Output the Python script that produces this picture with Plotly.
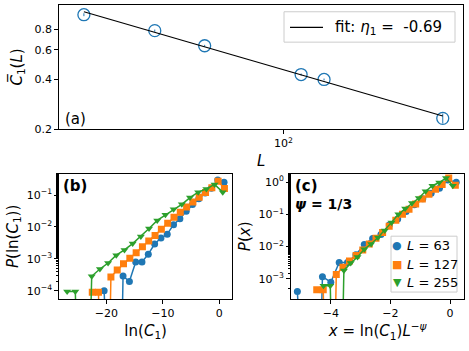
import numpy as np
import plotly.graph_objects as go

# ---- panel (a): mean C1 vs system size ----
L_sizes = [31, 47, 63, 111, 127, 255]
C1_mean = [0.977, 0.783, 0.635, 0.426, 0.398, 0.232]
C1_err = [0.02, 0.012, 0.008, 0.006, 0.005, 0.016]
fit_label = "fit: <i>η</i><sub>1</sub> =  -0.69"

# ---- panel (b): histograms of ln(C1) ----
L_hist = [63, 127, 255]
lnC_63 = [-20.40, -19.28, -18.16, -17.05, -15.93, -14.81, -13.70, -12.58, -11.46, -10.34,
          -9.23, -8.11, -6.99, -5.87, -4.76, -3.64, -2.52, -1.41, -0.29, 0.83]
P_63 = [1.0e-4, 0, 0, 2.9e-4, 1.95e-4, 8.0e-4, 8.0e-4, 1.4e-3, 2.9e-3, 4.5e-3,
        5.9e-3, 0.0118, 0.018, 0.031, 0.050, 0.077, 0.115, 0.164, 0.294, 0.25]
lnC_127 = [-22.5, -21.4, -20.3, -19.2, -18.08, -16.97, -15.85, -14.73, -13.62, -12.5, -11.38,
           -10.27, -9.15, -8.03, -6.92, -5.8, -4.68, -3.57, -2.45, -1.33, -0.22, 0.9]
P_127 = [9e-5, 9e-5, 0, 2.7e-4, 4.5e-4, 7e-4, 1.05e-3, 1.55e-3, 2.4e-3, 3.6e-3, 5.4e-3,
         8.5e-3, 0.013, 0.02, 0.029, 0.042, 0.06, 0.085, 0.12, 0.17, 0.27, 0.16]
lnC_255 = [-26.95, -25.5, -24.05, -22.6, -21.15, -19.7, -18.25, -16.8, -15.35, -13.9,
           -12.45, -11.0, -9.55, -8.1, -6.65, -5.2, -3.75, -2.3, -0.85, 0.6]
P_255 = [9.5e-5, 9.5e-5, 0, 2.85e-4, 4.8e-4, 7.4e-4, 1.3e-3, 1.9e-3, 3.0e-3, 5.0e-3,
         8.9e-3, 0.0160, 0.024, 0.036, 0.051, 0.083, 0.123, 0.155, 0.214, 0.123]
psi = 1 / 3

COLORS = ["#1f77b4", "#ff7f0e", "#2ca02c"]
SYMBOLS = ["circle", "square", "triangle-down"]
GLYPHS = ["●", "■", "▼"]
FONT = "DejaVu Sans"
W, H = 469, 351

fig = go.Figure()

# (a)
fig.add_trace(go.Scatter(
    x=L_sizes, y=C1_mean, mode="markers",
    marker=dict(symbol="circle-open", size=12, color=COLORS[0], line=dict(width=1.3)),
    error_y=dict(type="data", array=C1_err, color=COLORS[0], thickness=1, width=0),
    xaxis="x", yaxis="y"))
slope, icpt = np.polyfit(np.log10(L_sizes), np.log10(C1_mean), 1)
L_line = np.array([min(L_sizes), max(L_sizes)], dtype=float)
fig.add_trace(go.Scatter(
    x=L_line, y=10 ** icpt * L_line ** slope, mode="lines",
    line=dict(color="black", width=1.2), xaxis="x", yaxis="y"))

# (b) and (c)
series = [(lnC_63, P_63), (lnC_127, P_127), (lnC_255, P_255)]
for i, (L, (lx, p)) in enumerate(zip(L_hist, series)):
    lx = np.array(lx)
    p = np.array(p, dtype=float)
    p_plot = np.where(p > 0, p, 1e-14)   # empty bins clipped like matplotlib
    mk = dict(symbol=SYMBOLS[i], size=7, color=COLORS[i])
    fig.add_trace(go.Scatter(x=lx, y=p_plot, mode="lines+markers", marker=mk,
                             line=dict(color=COLORS[i], width=1.5),
                             xaxis="x2", yaxis="y2"))
    fig.add_trace(go.Scatter(x=lx * L ** (-psi), y=p_plot * L ** psi, mode="lines+markers",
                             marker=mk, line=dict(color=COLORS[i], width=1.5),
                             xaxis="x3", yaxis="y3"))

ax = dict(showline=True, mirror=True, linecolor="black", linewidth=1, ticks="outside",
          ticklen=4, tickwidth=1, tickcolor="black", showgrid=False, zeroline=False,
          tickfont=dict(size=11, color="black"), title_font=dict(size=15, color="black"))
minor = dict(ticks="outside", ticklen=2, tickcolor="black", showgrid=False)

dec = lambda k: f"10<sup>{'−' if k < 0 else ''}{abs(k)}</sup>"
px = lambda v: v / W
py = lambda v: 1 - v / H

# hand-built legends (boxes, sample marks, labels) in paper pixels
shapes = [
    dict(type="rect", xref="paper", yref="paper", x0=px(284), x1=px(455), y0=py(43), y1=py(12),
         fillcolor="rgba(255,255,255,0.8)", line=dict(color="#cccccc", width=1)),
    dict(type="line", xref="paper", yref="paper", x0=px(290), x1=px(323), y0=py(28), y1=py(28),
         line=dict(color="black", width=1.2)),
    dict(type="rect", xref="paper", yref="paper", x0=px(391), x1=px(457), y0=py(298), y1=py(241),
         fillcolor="rgba(255,255,255,0.8)", line=dict(color="#cccccc", width=1)),
]
annotations = [
    dict(text=fit_label, xref="paper", yref="paper", x=px(333), y=py(28),
         xanchor="left", yanchor="middle", showarrow=False, font=dict(size=15)),
    dict(text="(a)", xref="x domain", yref="y domain", x=0.01, y=-0.01,
         xanchor="left", yanchor="bottom", showarrow=False, font=dict(size=15)),
    dict(text="<b>(b)</b>", xref="x2 domain", yref="y2 domain", x=0.01, y=0.99,
         xanchor="left", yanchor="top", showarrow=False, font=dict(size=15)),
    dict(text="<b>(c)</b>", xref="x3 domain", yref="y3 domain", x=0.01, y=0.99,
         xanchor="left", yanchor="top", showarrow=False, font=dict(size=15)),
    dict(text="<b><i>ψ</i> = 1/3</b>", xref="x3 domain", yref="y3 domain", x=0.01,
         y=0.76, xanchor="left", yanchor="middle", showarrow=False, font=dict(size=14)),
]
row_y = [251, 269.5, 288]
for i, L in enumerate(L_hist):
    annotations.append(dict(text=GLYPHS[i], xref="paper", yref="paper", x=px(397),
                            y=py(row_y[i]), xanchor="center", yanchor="middle",
                            showarrow=False, font=dict(size=11, color=COLORS[i])))
    annotations.append(dict(text=f"<i>L</i> = {L}", xref="paper", yref="paper", x=px(405),
                            y=py(row_y[i]), xanchor="left", yanchor="middle",
                            showarrow=False, font=dict(size=13)))

fig.update_layout(
    width=W, height=H, margin=dict(l=0, r=0, t=0, b=0),
    paper_bgcolor="white", plot_bgcolor="white", showlegend=False,
    font=dict(family=FONT, color="black"),
    xaxis=dict(ax, type="log", domain=[0.1264, 0.9879], range=[1.4286, 2.459],
               tickvals=[100], ticktext=[dec(2)], anchor="y",
               title=dict(text="<i>L</i>", standoff=6)),
    yaxis=dict(ax, type="log", domain=[0.6248, 0.9858], range=[-0.699, 0.049],
               tickvals=[0.2, 0.4, 0.6, 0.8], ticktext=["0.2", "0.4", "0.6", "0.8"],
               anchor="x", title=dict(text="<i>C\u0305</i><sub>1</sub>(<i>L</i>)", standoff=8)),
    xaxis2=dict(ax, domain=[0.1264, 0.4947], range=[-28.34, 2.24],
                tickvals=[-20, -10, 0], ticktext=["−20", "−10", "0"], anchor="y2",
                title=dict(text="ln(<i>C</i><sub>1</sub>)", standoff=6)),
    yaxis2=dict(ax, type="log", domain=[0.1311, 0.4949], range=[-4.255, -0.334],
                tickvals=[1e-4, 1e-3, 1e-2, 1e-1], ticktext=[dec(k) for k in (-4, -3, -2, -1)],
                minor=minor, anchor="x2",
                title=dict(text="<i>P</i>(ln(<i>C</i><sub>1</sub>))", standoff=4)),
    xaxis3=dict(ax, domain=[0.6205, 0.99], range=[-5.34, 0.48],
                tickvals=[-4, -2, 0], ticktext=["−4", "−2", "0"], anchor="y3",
                title=dict(text="<i>x</i> = ln(<i>C</i><sub>1</sub>)<i>L</i><sup>−<i>ψ</i></sup>",
                           standoff=3)),
    yaxis3=dict(ax, type="log", domain=[0.1311, 0.4949], range=[-3.63, 0.265],
                tickvals=[1e-3, 1e-2, 1e-1, 1], ticktext=[dec(k) for k in (-3, -2, -1, 0)],
                minor=minor, anchor="x3",
                title=dict(text="<i>P</i>(<i>x</i>)", standoff=4)),
    shapes=shapes,
    annotations=annotations,
)

fig.write_html("out.html", config={"displayModeBar": False},
               post_script="document.body.style.margin = '0';")
